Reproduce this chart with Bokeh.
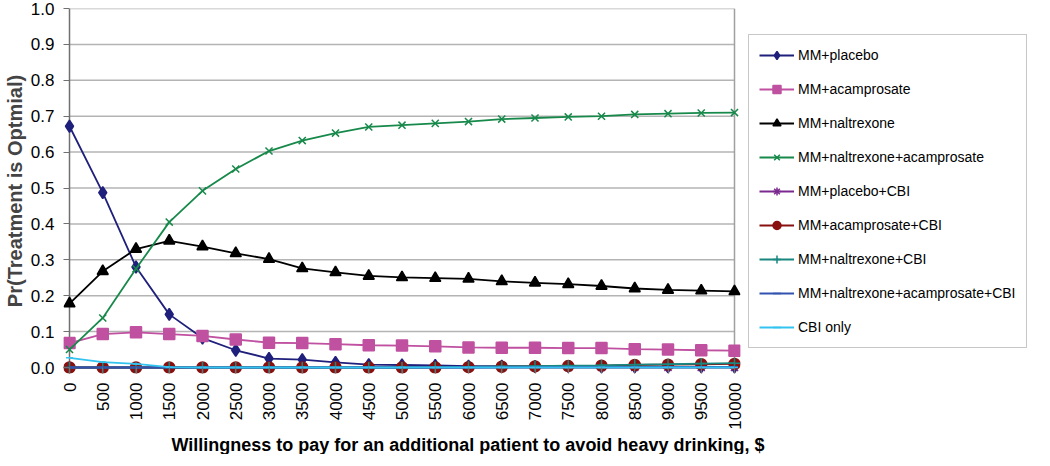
import math
from bokeh.plotting import figure
from bokeh.models import Legend, LegendItem, FixedTicker, Range1d, Title, CustomJSTickFormatter
from bokeh.embed import file_html
from bokeh.resources import INLINE

wtp = [0, 500, 1000, 1500, 2000, 2500, 3000, 3500, 4000, 4500, 5000,
       5500, 6000, 6500, 7000, 7500, 8000, 8500, 9000, 9500, 10000]

mm_placebo = [0.672, 0.487, 0.280, 0.148, 0.082, 0.048, 0.025, 0.022, 0.014, 0.008, 0.007,
              0.006, 0.004, 0.004, 0.003, 0.003, 0.002, 0.002, 0.002, 0.002, 0.002]
mm_acamprosate = [0.068, 0.093, 0.098, 0.093, 0.088, 0.078, 0.069, 0.068, 0.065, 0.062, 0.061,
                  0.059, 0.056, 0.055, 0.055, 0.054, 0.054, 0.051, 0.050, 0.048, 0.047]
mm_naltrexone = [0.178, 0.268, 0.330, 0.353, 0.337, 0.318, 0.302, 0.276, 0.265, 0.255, 0.251,
                 0.249, 0.247, 0.240, 0.236, 0.232, 0.227, 0.220, 0.216, 0.214, 0.212]
mm_nal_acamp = [0.050, 0.138, 0.275, 0.405, 0.492, 0.553, 0.603, 0.632, 0.653, 0.670, 0.675,
                0.680, 0.685, 0.692, 0.695, 0.698, 0.700, 0.705, 0.707, 0.709, 0.710]
mm_placebo_cbi = [0.0] * 21
mm_acamp_cbi = [0.0, 0.0, 0.0, 0.0, 0.0, 0.0, 0.0, 0.0, 0.0, 0.0, 0.0,
                0.0, 0.001, 0.002, 0.003, 0.004, 0.005, 0.007, 0.008, 0.009, 0.010]
mm_nal_cbi = [0.0, 0.0, 0.0, 0.0, 0.0, 0.0, 0.0, 0.0, 0.0, 0.0, 0.0,
              0.001, 0.002, 0.003, 0.004, 0.005, 0.006, 0.008, 0.009, 0.011, 0.012]
mm_nal_acamp_cbi = [0.0, 0.0, 0.0, 0.0, 0.0, 0.0, 0.0, 0.0, 0.0, 0.0, 0.0,
                    0.0, 0.0, 0.001, 0.001, 0.001, 0.001, 0.001, 0.002, 0.002, 0.002]
cbi_only = [0.027, 0.015, 0.010, 0.001, 0.0, 0.0, 0.0, 0.0, 0.0, 0.0, 0.0,
            0.0, 0.0, 0.0, 0.0, 0.0, 0.0, 0.0, 0.0, 0.0, 0.0]

series_names = ["MM+placebo", "MM+acamprosate", "MM+naltrexone", "MM+naltrexone+acamprosate",
                "MM+placebo+CBI", "MM+acamprosate+CBI", "MM+naltrexone+CBI",
                "MM+naltrexone+acamprosate+CBI", "CBI only"]
series_values = [mm_placebo, mm_acamprosate, mm_naltrexone, mm_nal_acamp,
                 mm_placebo_cbi, mm_acamp_cbi, mm_nal_cbi, mm_nal_acamp_cbi, cbi_only]
colors = ["#1f1f7c", "#c050a0", "#000000", "#17894a", "#7a2a8e", "#8a1010",
          "#17877f", "#3352b0", "#33c3f0"]
markers = ["diamond", "square", "triangle", "x", "asterisk", "circle", "cross", "dash", "dash"]
msizes = [12, 11, 11, 10, 10, 11, 11, 7, 7]

y_ticks = [0.0, 0.1, 0.2, 0.3, 0.4, 0.5, 0.6, 0.7, 0.8, 0.9, 1.0]

FONT = "Liberation Sans"

# plot area geometry (pixels): data area plus a small pad so edge markers are not clipped
DATA_W, DATA_H, PAD = 665, 359, 6
x_span = wtp[-1] - wtp[0]
y_span = y_ticks[-1] - y_ticks[0]
x_pad = x_span * PAD / DATA_W
y_pad = y_span * PAD / DATA_H

p = figure(frame_width=DATA_W + 2 * PAD, frame_height=DATA_H + PAD,
           output_backend="svg", toolbar_location=None,
           x_range=Range1d(wtp[0] - x_pad, wtp[-1] + x_pad),
           y_range=Range1d(y_ticks[0] - y_pad, y_ticks[-1]),
           min_border_left=54, min_border_top=8, min_border_bottom=0, min_border_right=2)
p.background_fill_color = "white"
p.outline_line_color = None
p.xgrid.grid_line_color = None
p.ygrid.grid_line_color = None

n = len(y_ticks)
# horizontal gridlines between the first and last category
p.segment(x0=[wtp[0]] * n, y0=y_ticks, x1=[wtp[-1]] * n, y1=y_ticks,
          line_color="#b4b4b4", line_width=1.5)
# right border of plot area
p.segment(x0=[wtp[-1]], y0=[y_ticks[0]], x1=[wtp[-1]], y1=[y_ticks[-1]],
          line_color="#a0a0a0", line_width=1.5)
# axis lines
p.segment(x0=[wtp[0]], y0=[y_ticks[0] - y_pad], x1=[wtp[0]], y1=[y_ticks[-1]],
          line_color="#707070", line_width=1.5)
p.segment(x0=[wtp[0] - x_pad], y0=[y_ticks[0]], x1=[wtp[-1]], y1=[y_ticks[0]],
          line_color="#707070", line_width=1.5)

p.xaxis.ticker = FixedTicker(ticks=wtp)
p.xaxis.major_label_orientation = math.pi / 2
p.xaxis.major_label_text_font = FONT
p.xaxis.major_label_text_font_size = "17px"
p.xaxis.major_label_text_color = "black"
p.xaxis.axis_line_color = None
p.xaxis.major_tick_line_color = "#707070"
p.xaxis.major_tick_line_width = 1.2
p.xaxis.major_tick_in = PAD
p.xaxis.major_tick_out = 0
p.xaxis.minor_tick_line_color = None
p.xaxis.major_label_standoff = 9

p.yaxis.ticker = FixedTicker(ticks=y_ticks)
p.yaxis.formatter = CustomJSTickFormatter(code="return tick.toFixed(1);")
p.yaxis.major_label_text_font = FONT
p.yaxis.major_label_text_font_size = "17px"
p.yaxis.major_label_text_color = "black"
p.yaxis.axis_line_color = None
p.yaxis.major_tick_line_color = "#707070"
p.yaxis.major_tick_line_width = 1.2
p.yaxis.major_tick_in = PAD
p.yaxis.major_tick_out = 0
p.yaxis.minor_tick_line_color = None
p.yaxis.major_label_standoff = 9
p.yaxis.axis_label = "Pr(Treatment is Optmial)"
p.yaxis.axis_label_text_font = FONT
p.yaxis.axis_label_text_font_size = "20px"
p.yaxis.axis_label_text_font_style = "bold"
p.yaxis.axis_label_standoff = 2

items = []
for name, vals, col, mk, ms in zip(series_names, series_values, colors, markers, msizes):
    r1 = p.line(wtp, vals, line_color=col, line_width=1.8)
    r2 = p.scatter(wtp, vals, marker=mk, size=ms, fill_color=col, line_color=col, line_width=1.5)
    items.append(LegendItem(label=name, renderers=[r1, r2]))

legend = Legend(items=items, location="center_left")
legend.label_text_font = FONT
legend.label_text_font_size = "14px"
legend.label_text_color = "black"
legend.glyph_width = 35
legend.glyph_height = 20
legend.label_height = 20
legend.spacing = 14
legend.padding = 10
legend.label_standoff = 4
legend.margin = 8
legend.border_line_color = "#909090"
legend.border_line_width = 1.5
legend.background_fill_alpha = 1.0
p.add_layout(legend, "right")

xt = Title(text="Willingness to pay for an additional patient to avoid heavy drinking, $",
           align="left", offset=102 + PAD, text_font=FONT, text_font_size="18px",
           text_font_style="bold", text_color="black", standoff=0)
p.add_layout(xt, "below")

open("out.html", "w").write(file_html(p, INLINE))
